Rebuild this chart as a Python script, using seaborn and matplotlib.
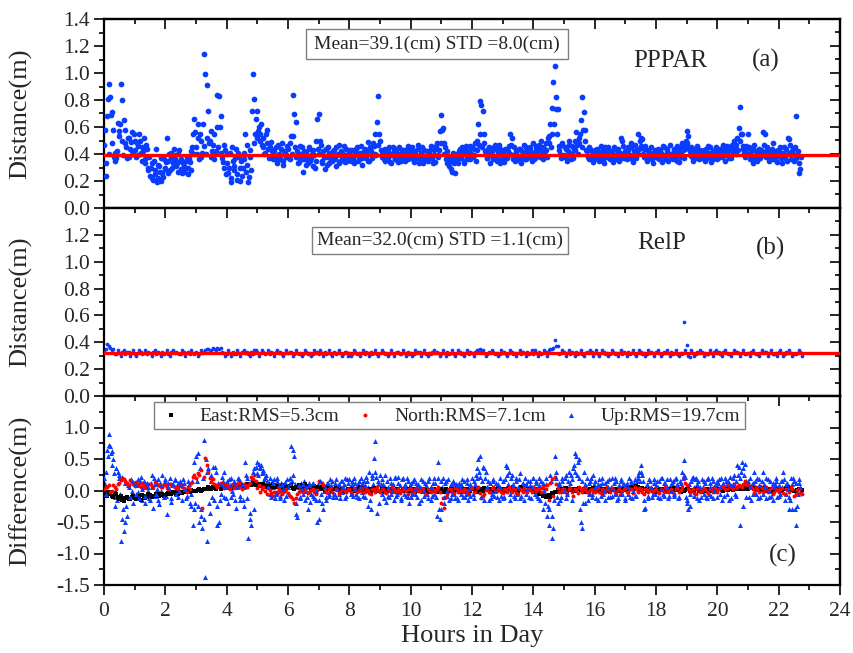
import numpy as np
import pandas as pd
import matplotlib
matplotlib.use("Agg")
import matplotlib.pyplot as plt
import matplotlib.patches as mpatches
from matplotlib.ticker import MultipleLocator, FormatStrFormatter
import seaborn as sns

# ---------------- data ----------------
STEP_A = 0.05   # hours between PPPAR / Up samples
STEP_B = 0.10   # hours between RelP / East / North samples

# PPPAR distance, two interleaved sample sets (second set offset by half a step)
dist_pppar = [
    0.47, 0.24, 0.68, 0.92, 0.82, 0.71, 0.58, 0.41, 0.37, 0.63,
    0.57, 0.92, 0.80, 0.65, 0.48, 0.37, 0.52, 0.44, 0.56, 0.40,
    0.50, 0.38, 0.46, 0.55, 0.41, 0.45, 0.52, 0.36, 0.44, 0.30,
    0.24, 0.33, 0.21, 0.28, 0.44, 0.22, 0.31, 0.20, 0.26, 0.36,
    0.29, 0.52, 0.35, 0.28, 0.41, 0.33, 0.39, 0.31, 0.27, 0.43,
    0.36, 0.26, 0.31, 0.29, 0.38, 0.25, 0.34, 0.42, 0.55, 0.66,
    0.45, 0.62, 0.36, 0.50, 0.41, 1.14, 0.99, 0.91, 0.72, 0.50,
    0.38, 0.47, 0.36, 0.42, 0.60, 0.83, 0.68, 0.37, 0.30, 0.43,
    0.33, 0.26, 0.41, 0.19, 0.35, 0.28, 0.44, 0.21, 0.38, 0.30,
    0.24, 0.41, 0.55, 0.32, 0.19, 0.43, 0.28, 0.99, 0.81, 0.66,
    0.72, 0.60, 0.55, 0.47, 0.52, 0.41, 0.58, 0.44, 0.38, 0.49,
    0.36, 0.42, 0.45, 0.33, 0.40, 0.37, 0.48, 0.35, 0.41, 0.39,
    0.44, 0.36, 0.53, 0.84, 0.70, 0.64, 0.42, 0.34, 0.38, 0.45,
    0.27, 0.36, 0.41, 0.33, 0.44, 0.37, 0.31, 0.39, 0.35, 0.66,
    0.70, 0.50, 0.35, 0.42, 0.29, 0.38, 0.45, 0.33, 0.40, 0.36,
    0.43, 0.31, 0.39, 0.47, 0.35, 0.41, 0.37, 0.34, 0.44, 0.38,
    0.40, 0.35, 0.43, 0.33, 0.39, 0.45, 0.36, 0.41, 0.32, 0.38,
    0.44, 0.37, 0.49, 0.35, 0.42, 0.40, 0.46, 0.55, 0.64, 0.83,
    0.50, 0.38, 0.43, 0.35, 0.41, 0.37, 0.45, 0.33, 0.39, 0.42,
    0.36, 0.44, 0.34, 0.40, 0.38, 0.43, 0.35, 0.41, 0.46, 0.37,
    0.39, 0.45, 0.34, 0.42, 0.37, 0.44, 0.36, 0.40, 0.33, 0.43,
    0.38, 0.35, 0.41, 0.46, 0.37, 0.43, 0.34, 0.48, 0.39, 0.57,
    0.69, 0.59, 0.48, 0.36, 0.42, 0.31, 0.38, 0.27, 0.35, 0.26,
    0.40, 0.33, 0.44, 0.37, 0.41, 0.35, 0.46, 0.38, 0.42, 0.36,
    0.45, 0.39, 0.48, 0.43, 0.62, 0.79, 0.76, 0.72, 0.55, 0.41,
    0.37, 0.45, 0.33, 0.42, 0.38, 0.47, 0.35, 0.40, 0.44, 0.36,
    0.41, 0.34, 0.43, 0.38, 0.46, 0.55, 0.52, 0.39, 0.35, 0.42,
    0.37, 0.44, 0.33, 0.40, 0.47, 0.36, 0.42, 0.38, 0.45, 0.35,
    0.41, 0.37, 0.46, 0.39, 0.43, 0.50, 0.36, 0.44, 0.48, 0.38,
    0.53, 0.62, 0.74, 0.93, 1.05, 0.82, 0.73, 0.43, 0.37, 0.47,
    0.39, 0.44, 0.35, 0.50, 0.41, 0.46, 0.37, 0.43, 0.56, 0.40,
    0.48, 0.65, 0.82, 0.71, 0.58, 0.42, 0.36, 0.44, 0.39, 0.34,
    0.43, 0.37, 0.41, 0.35, 0.46, 0.38, 0.33, 0.42, 0.39, 0.45,
    0.36, 0.41, 0.34, 0.44, 0.38, 0.40, 0.35, 0.52, 0.50, 0.37,
    0.42, 0.36, 0.45, 0.39, 0.48, 0.34, 0.41, 0.37, 0.55, 0.44,
    0.52, 0.51, 0.38, 0.46, 0.35, 0.43, 0.37, 0.41, 0.33, 0.40,
    0.38, 0.44, 0.36, 0.41, 0.34, 0.45, 0.39, 0.42, 0.35, 0.47,
    0.40, 0.36, 0.43, 0.38, 0.46, 0.34, 0.41, 0.48, 0.37, 0.44,
    0.57, 0.53, 0.39, 0.45, 0.35, 0.42, 0.38, 0.44, 0.36, 0.41,
    0.37, 0.43, 0.35, 0.40, 0.46, 0.38, 0.34, 0.42, 0.39, 0.45,
    0.36, 0.41, 0.44, 0.38, 0.47, 0.35, 0.42, 0.39, 0.45, 0.37,
    0.43, 0.50, 0.40, 0.52, 0.59, 0.75, 0.55, 0.46, 0.38, 0.44,
    0.55, 0.36, 0.42, 0.33, 0.47, 0.39, 0.35, 0.44, 0.37, 0.41,
    0.56, 0.55, 0.38, 0.43, 0.35, 0.40, 0.48, 0.36, 0.42, 0.34,
    0.39, 0.45, 0.33, 0.41, 0.37, 0.44, 0.52, 0.51, 0.36, 0.42,
    0.35, 0.68, 0.40, 0.26, 0.29,
]
dist_pppar_2 = [
    0.58, 0.33, 0.81, 0.40, 0.69, 0.48, 0.38, 0.35, 0.42, 0.53,
    0.62, 0.50, 0.39, 0.58, 0.45, 0.52, 0.38, 0.49, 0.42, 0.55,
    0.43, 0.48, 0.39, 0.50, 0.35, 0.42, 0.33, 0.47, 0.28, 0.38,
    0.30, 0.22, 0.35, 0.25, 0.19, 0.32, 0.27, 0.37, 0.23, 0.30,
    0.34, 0.26, 0.40, 0.37, 0.30, 0.44, 0.36, 0.33, 0.40, 0.35,
    0.29, 0.33, 0.27, 0.35, 0.30, 0.37, 0.28, 0.45, 0.40, 0.56,
    0.40, 0.52, 0.55, 0.38, 0.62, 0.46, 0.40, 0.52, 0.48, 0.57,
    0.42, 0.55, 0.40, 0.84, 0.45, 0.60, 0.41, 0.34, 0.47, 0.25,
    0.40, 0.30, 0.22, 0.45, 0.31, 0.37, 0.25, 0.41, 0.20, 0.35,
    0.30, 0.36, 0.27, 0.47, 0.23, 0.38, 0.72, 0.48, 0.55, 0.52,
    0.57, 0.50, 0.62, 0.45, 0.40, 0.55, 0.48, 0.37, 0.45, 0.42,
    0.43, 0.38, 0.35, 0.47, 0.36, 0.44, 0.32, 0.42, 0.38, 0.46,
    0.37, 0.48, 0.40, 0.53, 0.45, 0.38, 0.33, 0.46, 0.40, 0.36,
    0.42, 0.32, 0.38, 0.45, 0.35, 0.40, 0.43, 0.30, 0.50, 0.44,
    0.40, 0.47, 0.33, 0.38, 0.44, 0.32, 0.41, 0.37, 0.35, 0.42,
    0.36, 0.45, 0.40, 0.33, 0.42, 0.38, 0.46, 0.39, 0.35, 0.41,
    0.43, 0.38, 0.36, 0.41, 0.44, 0.35, 0.40, 0.46, 0.37, 0.42,
    0.38, 0.42, 0.35, 0.45, 0.37, 0.48, 0.40, 0.39, 0.47, 0.55,
    0.43, 0.40, 0.36, 0.44, 0.38, 0.42, 0.34, 0.40, 0.45, 0.36,
    0.41, 0.38, 0.45, 0.35, 0.43, 0.37, 0.40, 0.44, 0.36, 0.42,
    0.44, 0.36, 0.40, 0.38, 0.47, 0.33, 0.41, 0.45, 0.38, 0.36,
    0.42, 0.40, 0.37, 0.44, 0.33, 0.39, 0.46, 0.38, 0.43, 0.48,
    0.58, 0.40, 0.45, 0.33, 0.38, 0.35, 0.29, 0.41, 0.33, 0.37,
    0.35, 0.42, 0.38, 0.45, 0.33, 0.43, 0.39, 0.36, 0.46, 0.40,
    0.38, 0.44, 0.35, 0.50, 0.47, 0.55, 0.45, 0.48, 0.42, 0.37,
    0.44, 0.39, 0.41, 0.36, 0.45, 0.38, 0.43, 0.47, 0.33, 0.41,
    0.38, 0.44, 0.37, 0.42, 0.40, 0.47, 0.36, 0.45, 0.41, 0.38,
    0.44, 0.35, 0.42, 0.38, 0.36, 0.45, 0.39, 0.43, 0.37, 0.48,
    0.36, 0.44, 0.40, 0.47, 0.38, 0.42, 0.45, 0.39, 0.43, 0.52,
    0.48, 0.45, 0.55, 0.62, 0.73, 0.55, 0.46, 0.40, 0.48, 0.38,
    0.45, 0.38, 0.42, 0.47, 0.36, 0.40, 0.44, 0.50, 0.47, 0.52,
    0.55, 0.45, 0.58, 0.50, 0.43, 0.38, 0.45, 0.37, 0.42, 0.40,
    0.38, 0.44, 0.36, 0.40, 0.42, 0.35, 0.45, 0.38, 0.43, 0.37,
    0.42, 0.38, 0.45, 0.36, 0.40, 0.44, 0.41, 0.37, 0.46, 0.39,
    0.37, 0.43, 0.39, 0.45, 0.36, 0.42, 0.47, 0.44, 0.40, 0.50,
    0.46, 0.40, 0.44, 0.37, 0.42, 0.38, 0.45, 0.36, 0.41, 0.43,
    0.42, 0.37, 0.43, 0.39, 0.46, 0.38, 0.36, 0.44, 0.40, 0.38,
    0.37, 0.44, 0.40, 0.35, 0.42, 0.45, 0.38, 0.43, 0.46, 0.50,
    0.48, 0.45, 0.42, 0.38, 0.44, 0.37, 0.46, 0.40, 0.43, 0.38,
    0.42, 0.39, 0.44, 0.37, 0.41, 0.45, 0.39, 0.36, 0.43, 0.40,
    0.41, 0.38, 0.40, 0.45, 0.42, 0.39, 0.46, 0.37, 0.43, 0.47,
    0.40, 0.45, 0.47, 0.43, 0.50, 0.55, 0.44, 0.41, 0.46, 0.40,
    0.45, 0.40, 0.38, 0.44, 0.36, 0.42, 0.40, 0.37, 0.43, 0.39,
    0.47, 0.42, 0.45, 0.37, 0.41, 0.44, 0.36, 0.40, 0.38, 0.43,
    0.43, 0.37, 0.40, 0.45, 0.39, 0.35, 0.41, 0.47, 0.40, 0.44,
    0.45, 0.37, 0.42, 0.33, 0.38,
]

# RelP distance, two interleaved sample sets
dist_relp = [
    0.33, 0.39, 0.36, 0.35, 0.31, 0.32, 0.33, 0.31, 0.33, 0.32,
    0.31, 0.32, 0.33, 0.32, 0.31, 0.32, 0.33, 0.31, 0.32, 0.33,
    0.32, 0.31, 0.33, 0.32, 0.32, 0.31, 0.33, 0.32, 0.31, 0.32,
    0.33, 0.31, 0.32, 0.34, 0.35, 0.34, 0.35, 0.36, 0.36, 0.32,
    0.31, 0.32, 0.33, 0.31, 0.32, 0.33, 0.32, 0.31, 0.33, 0.34,
    0.33, 0.32, 0.33, 0.32, 0.31, 0.32, 0.33, 0.32, 0.31, 0.32,
    0.32, 0.33, 0.31, 0.32, 0.32, 0.31, 0.33, 0.32, 0.31, 0.32,
    0.31, 0.32, 0.33, 0.32, 0.31, 0.33, 0.32, 0.32, 0.31, 0.33,
    0.32, 0.31, 0.33, 0.32, 0.32, 0.31, 0.32, 0.33, 0.32, 0.31,
    0.32, 0.33, 0.32, 0.31, 0.32, 0.32, 0.33, 0.31, 0.32, 0.33,
    0.32, 0.31, 0.32, 0.33, 0.32, 0.31, 0.32, 0.33, 0.32, 0.32,
    0.31, 0.32, 0.33, 0.32, 0.31, 0.32, 0.33, 0.32, 0.32, 0.31,
    0.32, 0.33, 0.34, 0.33, 0.32, 0.31, 0.32, 0.33, 0.32, 0.31,
    0.32, 0.31, 0.32, 0.33, 0.32, 0.32, 0.31, 0.32, 0.33, 0.32,
    0.31, 0.32, 0.33, 0.32, 0.33, 0.34, 0.35, 0.42, 0.37, 0.32,
    0.33, 0.32, 0.31, 0.32, 0.33, 0.32, 0.31, 0.32, 0.32, 0.33,
    0.32, 0.31, 0.32, 0.33, 0.32, 0.31, 0.33, 0.32, 0.32, 0.31,
    0.32, 0.33, 0.32, 0.31, 0.32, 0.33, 0.32, 0.31, 0.32, 0.32,
    0.33, 0.32, 0.31, 0.32, 0.32, 0.33, 0.32, 0.31, 0.32, 0.55,
    0.38, 0.29, 0.32, 0.31, 0.32, 0.33, 0.32, 0.31, 0.32, 0.33,
    0.32, 0.31, 0.33, 0.32, 0.31, 0.32, 0.33, 0.32, 0.32, 0.31,
    0.32, 0.33, 0.32, 0.31, 0.32, 0.32, 0.33, 0.32, 0.31, 0.32,
    0.33, 0.32, 0.31, 0.32, 0.32, 0.31, 0.32, 0.33,
]
dist_relp_2 = [
    0.35, 0.37, 0.34, 0.31, 0.34, 0.30, 0.34, 0.33, 0.30, 0.34,
    0.30, 0.34, 0.31, 0.34, 0.33, 0.30, 0.34, 0.33, 0.30, 0.31,
    0.34, 0.30, 0.34, 0.33, 0.31, 0.34, 0.30, 0.33, 0.34, 0.31,
    0.30, 0.34, 0.33, 0.35, 0.33, 0.36, 0.34, 0.35, 0.33, 0.30,
    0.34, 0.30, 0.31, 0.34, 0.30, 0.34, 0.33, 0.30, 0.31, 0.34,
    0.30, 0.34, 0.31, 0.34, 0.33, 0.30, 0.34, 0.33, 0.30, 0.34,
    0.33, 0.30, 0.34, 0.31, 0.30, 0.34, 0.31, 0.30, 0.34, 0.33,
    0.34, 0.30, 0.31, 0.34, 0.30, 0.31, 0.34, 0.30, 0.33, 0.30,
    0.30, 0.34, 0.31, 0.30, 0.34, 0.33, 0.30, 0.31, 0.34, 0.30,
    0.34, 0.31, 0.30, 0.34, 0.30, 0.33, 0.31, 0.34, 0.30, 0.31,
    0.30, 0.34, 0.33, 0.30, 0.34, 0.30, 0.31, 0.34, 0.33, 0.30,
    0.34, 0.30, 0.31, 0.34, 0.30, 0.34, 0.31, 0.30, 0.34, 0.33,
    0.30, 0.34, 0.35, 0.34, 0.30, 0.33, 0.34, 0.31, 0.30, 0.34,
    0.33, 0.30, 0.34, 0.31, 0.30, 0.34, 0.33, 0.30, 0.31, 0.34,
    0.34, 0.30, 0.31, 0.34, 0.30, 0.35, 0.36, 0.37, 0.31, 0.34,
    0.30, 0.34, 0.33, 0.30, 0.31, 0.34, 0.30, 0.33, 0.34, 0.30,
    0.34, 0.30, 0.34, 0.31, 0.30, 0.34, 0.31, 0.30, 0.34, 0.33,
    0.30, 0.31, 0.34, 0.30, 0.34, 0.31, 0.30, 0.34, 0.33, 0.30,
    0.34, 0.30, 0.33, 0.34, 0.30, 0.31, 0.34, 0.30, 0.31, 0.34,
    0.30, 0.34, 0.30, 0.33, 0.34, 0.30, 0.31, 0.34, 0.30, 0.34,
    0.33, 0.30, 0.34, 0.31, 0.30, 0.34, 0.33, 0.30, 0.34, 0.31,
    0.30, 0.34, 0.31, 0.30, 0.34, 0.33, 0.30, 0.34, 0.31, 0.30,
    0.34, 0.30, 0.33, 0.34, 0.30, 0.31, 0.34, 0.30,
]

# PPPAR - RelP differences (m), two interleaved sample sets each
diff_east = [
    -0.05, -0.08, -0.03, -0.10, -0.06, -0.13, -0.15, -0.12, -0.14, -0.10,
    -0.12, -0.09, -0.15, -0.08, -0.11, -0.07, -0.09, -0.06, -0.08, -0.05,
    -0.07, -0.04, -0.06, -0.03, -0.05, -0.02, -0.03, -0.01, -0.02, 0.00,
    -0.01, 0.02, 0.01, 0.03, 0.05, 0.02, 0.04, 0.06, 0.03, 0.05,
    0.04, 0.06, 0.05, 0.08, 0.06, 0.09, 0.07, 0.10, 0.08, 0.11,
    0.09, 0.07, 0.10, 0.08, 0.06, 0.09, 0.05, 0.07, 0.04, 0.06,
    0.05, 0.08, 0.03, 0.06, 0.09, 0.04, 0.07, 0.05, 0.02, 0.04,
    0.03, 0.05, 0.01, 0.04, -0.01, 0.02, 0.03, 0.00, 0.02, -0.02,
    0.01, 0.03, -0.01, 0.02, 0.04, 0.00, 0.02, -0.02, 0.01, 0.03,
    0.00, -0.02, 0.02, 0.01, -0.03, 0.01, 0.03, -0.01, 0.00, 0.02,
    -0.01, 0.02, 0.00, 0.03, -0.02, 0.01, -0.03, 0.02, 0.00, -0.01,
    0.02, -0.02, 0.01, 0.03, -0.01, 0.04, 0.00, 0.02, -0.02, 0.01,
    0.03, 0.00, -0.02, 0.02, 0.04, 0.01, -0.01, 0.03, 0.00, 0.02,
    -0.01, 0.02, 0.04, 0.00, 0.03, -0.02, 0.06, 0.02, 0.00, 0.03,
    0.01, -0.03, -0.05, -0.08, -0.10, -0.07, -0.04, -0.02, 0.01, 0.03,
    0.02, 0.00, 0.03, -0.01, 0.02, 0.04, 0.01, -0.02, 0.00, 0.02,
    0.01, -0.01, 0.03, 0.00, 0.02, -0.02, 0.01, 0.03, 0.00, -0.01,
    0.02, 0.04, 0.06, 0.03, 0.05, 0.01, 0.03, -0.01, 0.02, 0.00,
    -0.02, 0.01, 0.03, 0.00, -0.01, 0.02, 0.04, 0.01, -0.02, 0.00,
    0.02, -0.01, 0.01, 0.03, 0.00, -0.02, 0.02, 0.01, -0.01, 0.03,
    0.01, 0.03, 0.00, 0.02, 0.04, 0.01, 0.03, 0.05, 0.02, 0.04,
    0.03, 0.06, 0.02, 0.04, 0.01, 0.03, 0.00, 0.02, -0.01, 0.01,
    0.02, 0.00, 0.03, 0.05, 0.02, -0.01, 0.01, 0.03,
]
diff_east_2 = [
    -0.02, -0.06, -0.09, -0.04, -0.11, -0.08, -0.16, -0.10, -0.13, -0.08,
    -0.14, -0.10, -0.07, -0.12, -0.06, -0.10, -0.08, -0.05, -0.07, -0.09,
    -0.05, -0.06, -0.03, -0.05, -0.02, -0.04, -0.01, -0.03, 0.01, -0.01,
    0.01, -0.01, 0.03, 0.02, 0.04, 0.05, 0.03, 0.07, 0.05, 0.04,
    0.06, 0.04, 0.07, 0.06, 0.09, 0.07, 0.10, 0.08, 0.12, 0.09,
    0.11, 0.08, 0.06, 0.10, 0.07, 0.05, 0.08, 0.06, 0.09, 0.05,
    0.07, 0.04, 0.06, 0.08, 0.05, 0.10, 0.06, 0.03, 0.07, 0.06,
    0.04, 0.02, 0.05, 0.03, 0.01, 0.04, 0.01, 0.03, -0.01, 0.02,
    0.03, 0.00, 0.02, 0.05, 0.01, 0.03, 0.00, 0.02, 0.04, 0.00,
    0.02, 0.01, -0.01, 0.03, 0.00, 0.02, -0.02, 0.02, 0.03, 0.00,
    0.01, -0.02, 0.03, 0.01, 0.02, -0.01, 0.01, 0.03, -0.02, 0.02,
    0.00, 0.03, -0.01, 0.02, 0.01, 0.03, -0.02, 0.01, 0.03, 0.00,
    0.02, 0.04, 0.01, -0.01, 0.03, 0.02, 0.00, 0.02, 0.04, 0.01,
    0.03, 0.00, 0.02, 0.05, 0.01, 0.04, 0.02, 0.07, 0.03, 0.01,
    0.02, 0.00, -0.04, -0.06, -0.09, -0.11, -0.05, -0.03, 0.00, 0.02,
    0.04, 0.01, 0.02, 0.00, 0.03, 0.01, 0.03, 0.00, 0.02, 0.04,
    0.00, 0.02, 0.01, 0.03, -0.01, 0.01, 0.02, 0.00, 0.02, 0.01,
    0.03, 0.05, 0.04, 0.07, 0.03, 0.04, 0.02, 0.01, 0.03, 0.01,
    0.00, 0.02, 0.01, 0.03, 0.01, 0.00, 0.03, 0.02, 0.00, 0.01,
    0.03, 0.01, 0.00, 0.02, 0.01, 0.00, 0.03, 0.00, 0.02, 0.01,
    0.02, 0.01, 0.03, 0.01, 0.03, 0.02, 0.04, 0.03, 0.05, 0.03,
    0.05, 0.04, 0.03, 0.02, 0.04, 0.02, 0.01, 0.03, 0.00, 0.02,
    0.01, 0.02, 0.04, 0.03, 0.01, 0.00, 0.02, 0.01,
]

diff_north = [
    0.02, 0.06, -0.03, 0.08, 0.03, 0.12, 0.20, 0.15, 0.09, 0.14,
    0.07, 0.11, 0.05, 0.09, 0.04, 0.10, 0.06, 0.12, 0.08, 0.05,
    0.09, 0.03, 0.11, 0.06, 0.02, 0.08, 0.04, -0.02, 0.03, 0.22,
    0.20, 0.25, -0.28, 0.52, 0.30, 0.14, 0.10, 0.06, 0.12, 0.04,
    0.08, 0.02, 0.10, 0.05, 0.12, 0.03, 0.07, 0.09, 0.22, 0.25,
    0.04, -0.02, 0.06, -0.05, 0.01, -0.08, -0.03, 0.02, -0.06, -0.01,
    -0.04, -0.10, -0.20, -0.06, 0.01, -0.03, 0.04, -0.02, 0.03, -0.05,
    0.15, 0.12, 0.02, -0.04, 0.05, -0.06, 0.01, -0.03, 0.04, -0.02,
    0.03, -0.05, 0.02, -0.01, 0.04, -0.03, 0.01, -0.06, 0.02, 0.05,
    -0.02, 0.03, -0.04, 0.01, 0.05, -0.03, 0.02, -0.01, 0.04, -0.05,
    0.02, -0.03, 0.05, -0.01, 0.03, -0.06, 0.01, 0.04, -0.02, 0.06,
    -0.20, -0.28, -0.05, 0.03, -0.04, 0.02, 0.05, -0.03, 0.01, -0.06,
    0.04, -0.02, 0.06, -0.12, -0.05, 0.02, -0.03, 0.05, -0.01, 0.03,
    -0.04, 0.02, 0.05, -0.02, 0.03, -0.06, 0.01, 0.04, -0.03, 0.02,
    0.05, -0.01, 0.03, 0.06, 0.02, -0.15, 0.18, 0.22, 0.04, -0.03,
    0.02, -0.05, 0.04, -0.08, 0.01, 0.05, -0.03, 0.02, -0.06, 0.03,
    -0.02, 0.04, -0.04, 0.01, 0.05, -0.03, 0.02, -0.05, 0.03, -0.01,
    0.04, -0.03, 0.02, 0.06, -0.02, 0.03, -0.05, 0.01, 0.04, -0.02,
    0.03, -0.04, 0.01, 0.05, -0.02, 0.02, -0.05, 0.04, 0.01, 0.20,
    0.08, -0.03, 0.02, -0.06, 0.04, -0.01, 0.03, -0.04, 0.02, 0.05,
    -0.02, 0.04, 0.07, 0.03, 0.08, 0.02, 0.06, 0.09, 0.05, 0.15,
    0.10, 0.06, -0.04, 0.03, 0.07, -0.02, 0.05, 0.01, -0.05, 0.03,
    -0.03, 0.04, -0.06, 0.02, 0.05, -0.08, 0.01, -0.04,
]
diff_north_2 = [
    0.05, 0.09, 0.00, 0.05, 0.10, 0.16, 0.18, 0.12, 0.17, 0.10,
    0.13, 0.08, 0.12, 0.06, 0.11, 0.07, 0.13, 0.09, 0.06, 0.10,
    0.05, 0.10, 0.07, 0.04, 0.09, 0.06, 0.01, 0.05, 0.12, 0.25,
    0.28, 0.33, 0.22, 0.40, 0.20, 0.18, 0.08, 0.11, 0.08, 0.10,
    0.05, 0.09, 0.04, 0.11, 0.06, 0.10, 0.05, 0.12, 0.18, 0.15,
    0.08, 0.03, 0.00, 0.04, -0.04, -0.02, -0.06, 0.00, -0.03, 0.02,
    -0.08, -0.14, -0.12, -0.03, -0.01, 0.02, -0.04, 0.01, -0.03, 0.01,
    0.13, 0.08, -0.02, 0.03, -0.03, 0.02, -0.05, 0.03, -0.01, 0.02,
    -0.02, 0.04, -0.03, 0.03, -0.02, 0.03, -0.04, 0.02, -0.02, 0.01,
    0.03, -0.03, 0.02, -0.02, 0.03, 0.00, -0.04, 0.03, -0.01, 0.02,
    -0.04, 0.03, 0.00, 0.04, -0.03, 0.02, -0.02, 0.01, 0.03, -0.02,
    -0.12, -0.10, 0.02, -0.03, 0.04, -0.02, 0.00, 0.03, -0.04, 0.02,
    -0.02, 0.04, -0.04, -0.08, 0.01, -0.03, 0.04, -0.01, 0.03, -0.03,
    0.03, -0.03, 0.01, 0.04, -0.04, 0.02, -0.02, 0.01, 0.03, -0.02,
    0.02, 0.04, -0.03, 0.02, 0.08, 0.12, -0.08, 0.10, -0.02, 0.03,
    -0.03, 0.03, -0.02, 0.02, -0.04, 0.02, 0.04, -0.02, 0.01, -0.03,
    0.03, -0.02, 0.02, -0.03, 0.02, 0.04, -0.02, 0.01, -0.04, 0.02,
    -0.02, 0.03, -0.04, 0.02, 0.04, -0.03, 0.02, -0.02, 0.03, 0.01,
    -0.02, 0.02, -0.03, 0.03, 0.00, -0.03, 0.03, -0.02, 0.05, 0.12,
    0.03, 0.01, -0.04, 0.03, -0.02, 0.04, -0.03, 0.02, -0.02, 0.03,
    0.02, 0.06, 0.03, 0.09, 0.05, 0.10, 0.04, 0.07, 0.11, 0.08,
    0.06, 0.02, 0.05, -0.02, 0.04, 0.02, -0.03, 0.04, -0.02, 0.01,
    0.02, -0.04, 0.03, -0.03, 0.02, -0.05, 0.03, -0.06,
]

diff_up = [
    0.20, -0.05, 0.65, 0.90, 0.70, 0.62, 0.50, -0.25, 0.35, 0.30,
    0.25, -0.80, -0.45, -0.65, -0.50, -0.40, 0.05, -0.10, 0.15, -0.20,
    0.10, -0.05, 0.18, -0.12, 0.22, 0.02, 0.15, -0.08, 0.12, 0.05,
    -0.15, 0.25, -0.28, 0.10, -0.05, 0.18, -0.22, 0.08, 0.25, -0.10,
    0.15, -0.38, 0.05, 0.20, -0.12, 0.10, 0.16, -0.05, 0.12, 0.00,
    0.08, -0.15, 0.12, 0.02, -0.08, 0.15, -0.20, -0.25, -0.55, 0.45,
    0.55, 0.60, -0.50, -0.40, -0.60, 0.80, -1.38, -0.80, 0.35, -0.35,
    0.25, 0.38, -0.15, 0.30, -0.55, -0.50, 0.10, 0.22, -0.10, 0.05,
    0.15, -0.20, 0.08, 0.20, -0.05, 0.12, -0.28, 0.05, 0.18, -0.15,
    0.10, -0.25, 0.45, 0.20, -0.75, -0.45, -0.55, 0.30, -0.30, 0.38,
    0.45, 0.42, 0.35, 0.28, 0.32, 0.22, 0.15, 0.05, 0.20, -0.10,
    0.12, 0.18, -0.05, 0.15, 0.08, -0.12, 0.10, 0.02, 0.14, -0.08,
    0.05, 0.12, 0.70, 0.65, 0.55, -0.38, -0.42, 0.08, -0.10, 0.02,
    0.10, -0.15, 0.05, -0.30, 0.08, -0.05, 0.12, -0.12, 0.00, -0.50,
    -0.45, 0.15, -0.20, -0.30, 0.05, -0.10, 0.12, -0.05, 0.08, 0.15,
    -0.05, 0.18, 0.02, 0.10, -0.12, 0.15, 0.05, 0.20, -0.08, 0.12,
    0.18, -0.05, 0.10, 0.20, 0.02, -0.10, 0.15, 0.05, 0.12, -0.08,
    0.08, 0.22, -0.25, 0.30, -0.30, 0.25, 0.52, 0.78, -0.35, 0.15,
    0.25, -0.05, 0.10, 0.25, -0.18, 0.05, -0.10, 0.12, 0.00, -0.15,
    0.20, -0.05, 0.22, 0.08, -0.12, 0.20, 0.05, -0.08, 0.15, -0.20,
    0.12, -0.05, 0.18, 0.02, -0.10, 0.10, 0.05, -0.15, 0.15, 0.00,
    0.08, -0.12, 0.20, 0.05, -0.08, 0.20, 0.12, -0.40, 0.45, -0.45,
    -0.30, 0.20, -0.10, 0.15, 0.00, -0.15, 0.10, -0.05, 0.12, -0.12,
    0.08, -0.15, 0.05, 0.10, -0.10, 0.15, -0.05, 0.18, 0.02, -0.08,
    0.20, -0.12, 0.10, 0.35, 0.50, 0.55, -0.10, 0.38, 0.35, 0.30,
    0.05, -0.15, 0.12, -0.05, 0.15, 0.00, -0.10, 0.10, 0.05, -0.08,
    0.15, -0.10, 0.40, 0.38, 0.30, -0.05, 0.25, 0.10, -0.12, 0.20,
    0.05, 0.28, -0.08, 0.12, -0.15, 0.10, 0.02, -0.10, 0.15, 0.05,
    0.20, -0.05, 0.12, -0.12, 0.08, 0.15, -0.30, 0.00, 0.20, -0.40,
    -0.55, 0.25, -0.75, -0.60, 0.55, 0.20, -0.20, 0.10, -0.10, 0.15,
    0.00, 0.25, -0.05, 0.30, 0.12, -0.15, 0.35, 0.60, 0.55, 0.45,
    0.50, -0.50, -0.60, 0.30, -0.20, 0.20, -0.05, 0.15, -0.10, 0.25,
    0.05, -0.12, 0.10, 0.18, -0.08, 0.12, 0.00, -0.15, 0.15, 0.05,
    -0.10, 0.20, 0.02, -0.05, 0.15, -0.12, 0.08, 0.18, -0.05, 0.10,
    -0.15, 0.12, 0.05, -0.10, 0.15, 0.00, 0.18, -0.08, 0.25, 0.30,
    0.40, 0.25, -0.30, -0.28, 0.10, -0.12, 0.15, 0.05, -0.05, 0.18,
    0.08, -0.10, 0.15, 0.02, 0.20, -0.08, 0.12, 0.05, -0.12, 0.18,
    0.00, 0.15, -0.05, 0.20, 0.10, -0.10, 0.12, 0.30, 0.48, 0.22,
    -0.20, -0.30, -0.25, 0.15, 0.22, -0.08, 0.20, 0.10, -0.15, 0.05,
    0.18, -0.05, 0.12, -0.12, 0.20, 0.05, -0.08, 0.15, 0.00, 0.10,
    -0.10, 0.18, 0.05, -0.15, 0.12, 0.20, -0.05, 0.15, 0.08, -0.12,
    0.10, 0.25, -0.08, 0.40, 0.38, -0.55, 0.45, 0.35, 0.42, -0.10,
    0.15, 0.05, -0.15, 0.12, 0.30, -0.05, 0.20, 0.08, -0.10, 0.15,
    0.30, 0.05, -0.12, 0.18, 0.00, -0.08, 0.12, 0.05, 0.15, -0.10,
    0.08, -0.05, 0.15, 0.30, -0.15, 0.10, 0.02, -0.30, 0.20, -0.30,
    0.15, -0.55, -0.25, 0.12, 0.05,
]
diff_up_2 = [
    0.10, 0.30, 0.55, 0.72, 0.60, 0.40, 0.28, -0.10, -0.15, 0.20,
    -0.05, 0.22, -0.30, 0.12, -0.25, 0.08, -0.12, 0.18, 0.00, 0.12,
    -0.10, 0.08, -0.02, 0.15, -0.15, 0.05, -0.20, 0.10, 0.00, -0.12,
    0.12, 0.05, 0.20, -0.08, 0.02, -0.15, 0.12, 0.00, -0.05, 0.18,
    -0.08, 0.12, 0.02, -0.18, 0.08, -0.02, 0.18, 0.05, -0.10, 0.15,
    0.10, 0.18, 0.00, -0.12, 0.05, 0.10, -0.05, 0.15, -0.30, -0.20,
    0.15, -0.25, 0.35, -0.30, 0.20, -0.45, 0.50, 0.30, -0.20, 0.15,
    -0.10, 0.05, 0.38, -0.25, 0.12, -0.15, -0.05, 0.15, 0.30, -0.12,
    0.05, 0.18, -0.10, 0.00, 0.15, -0.15, 0.10, 0.20, -0.08, 0.12,
    -0.15, 0.05, 0.25, -0.12, 0.10, -0.35, 0.20, 0.35, 0.10, 0.28,
    0.25, 0.38, 0.40, 0.30, 0.18, 0.25, 0.10, 0.12, -0.05, 0.15,
    0.05, -0.12, 0.20, 0.00, -0.08, 0.12, 0.05, -0.15, 0.08, 0.18,
    -0.05, 0.20, 0.15, 0.25, 0.10, -0.20, 0.05, -0.12, 0.12, -0.05,
    0.15, 0.00, -0.10, 0.12, -0.18, 0.10, -0.08, 0.05, -0.15, 0.10,
    -0.15, -0.05, 0.10, 0.00, -0.15, 0.12, -0.08, 0.18, 0.00, -0.10,
    0.12, -0.10, 0.08, -0.05, 0.15, -0.02, 0.10, -0.12, 0.18, 0.02,
    0.05, 0.15, -0.08, 0.12, -0.05, 0.10, -0.12, 0.20, -0.02, 0.15,
    -0.10, 0.15, 0.05, -0.15, 0.20, 0.10, 0.30, 0.22, 0.10, -0.20,
    0.10, 0.18, -0.12, 0.05, 0.15, -0.08, 0.20, -0.05, 0.10, 0.22,
    -0.08, 0.12, 0.00, -0.15, 0.18, -0.05, 0.10, 0.20, -0.10, 0.08,
    -0.10, 0.15, -0.05, 0.12, 0.05, -0.20, 0.18, 0.00, -0.08, 0.12,
    -0.05, 0.15, 0.00, -0.15, 0.12, -0.05, -0.10, 0.20, -0.30, 0.15,
    0.05, -0.20, 0.12, -0.08, 0.18, 0.05, -0.12, 0.15, -0.05, 0.10,
    -0.12, 0.12, -0.05, 0.18, 0.00, -0.10, 0.12, -0.15, 0.10, 0.05,
    -0.05, 0.15, 0.25, 0.20, 0.30, 0.22, 0.15, -0.15, 0.20, 0.05,
    0.15, 0.02, -0.12, 0.18, -0.08, 0.12, 0.05, -0.15, 0.20, 0.00,
    -0.12, 0.18, 0.25, 0.10, -0.15, 0.20, 0.05, -0.08, 0.15, -0.05,
    0.18, -0.12, 0.10, 0.02, 0.20, -0.05, 0.15, 0.08, -0.12, 0.20,
    0.05, 0.15, -0.08, 0.20, -0.15, 0.05, 0.12, -0.20, 0.10, -0.25,
    -0.30, 0.15, -0.40, -0.15, 0.30, -0.10, 0.12, -0.15, 0.20, 0.05,
    0.20, -0.12, 0.15, 0.05, 0.25, 0.18, 0.40, 0.30, 0.25, 0.20,
    -0.30, 0.15, -0.20, 0.10, 0.05, -0.15, 0.12, 0.20, -0.05, 0.10,
    0.15, 0.02, -0.15, 0.08, 0.20, -0.05, 0.12, 0.05, -0.10, 0.18,
    0.05, -0.08, 0.12, 0.20, -0.15, 0.05, -0.05, 0.15, 0.10, -0.12,
    0.08, -0.05, 0.20, 0.10, -0.12, 0.12, -0.08, 0.15, 0.20, 0.15,
    0.30, 0.15, -0.15, 0.05, -0.08, 0.18, 0.02, -0.10, 0.12, -0.05,
    0.15, 0.05, -0.12, 0.20, -0.05, 0.12, 0.00, 0.18, -0.08, 0.10,
    0.12, -0.08, 0.18, 0.02, -0.12, 0.15, 0.05, 0.20, 0.25, -0.10,
    -0.15, 0.10, -0.05, 0.20, 0.05, 0.18, -0.12, 0.15, 0.02, -0.10,
    0.05, 0.15, -0.10, 0.18, -0.05, 0.12, 0.20, -0.12, 0.08, 0.15,
    0.12, -0.05, 0.20, 0.02, -0.08, 0.15, 0.10, -0.15, 0.22, 0.05,
    0.20, -0.05, 0.15, 0.25, 0.20, 0.30, -0.25, 0.25, 0.15, 0.05,
    -0.10, 0.20, 0.10, -0.05, 0.15, 0.02, -0.12, 0.18, 0.05, -0.05,
    0.10, 0.20, 0.02, -0.10, 0.15, 0.05, -0.15, 0.10, 0.20, 0.02,
    -0.08, 0.15, 0.05, 0.18, -0.05, 0.12, -0.10, -0.15, 0.10, 0.20,
    -0.30, 0.12, -0.05, 0.18, 0.00,
]

mean_pppar = 0.391
mean_relp = 0.320
text_a = "Mean=39.1(cm) STD =8.0(cm)"
text_b = "Mean=32.0(cm) STD =1.1(cm)"
legend_labels = ["East:RMS=5.3cm", "North:RMS=7.1cm", "Up:RMS=19.7cm"]


def frame(values, step, offset=0.0):
    return pd.DataFrame({"hour": np.arange(len(values)) * step + offset,
                         "v": values})


df_a = pd.concat([frame(dist_pppar, STEP_A), frame(dist_pppar_2, STEP_A, STEP_A / 2)])
df_b = pd.concat([frame(dist_relp, STEP_B), frame(dist_relp_2, STEP_B, STEP_B / 2)])
df_e1, df_e2 = frame(diff_east, STEP_B), frame(diff_east_2, STEP_B, STEP_B / 2)
df_n1, df_n2 = frame(diff_north, STEP_B), frame(diff_north_2, STEP_B, STEP_B / 2)
df_u1, df_u2 = frame(diff_up, STEP_A), frame(diff_up_2, STEP_A, STEP_A / 2)

# ---------------- style ----------------
sns.set_style("ticks")
plt.rcParams["font.family"] = ["Liberation Serif", "DejaVu Serif"]
plt.rcParams["axes.unicode_minus"] = False

BLUE = "#0a3cff"
W, H = 854, 653
fig = plt.figure(figsize=(W / 100, H / 100), dpi=100)
L_PX, R_PX = 104, 840


def rect(top, bottom):
    return [L_PX / W, 1 - bottom / H, (R_PX - L_PX) / W, (bottom - top) / H]


axa = fig.add_axes(rect(19, 208))
axb = fig.add_axes(rect(208, 396))
axc = fig.add_axes(rect(396, 585))

# ---------------- plots ----------------
sns.scatterplot(data=df_a, x="hour", y="v", ax=axa, color=BLUE, s=17,
                marker="o", linewidth=0, zorder=3)
axa.axhline(mean_pppar, color="#ff0000", lw=2.4, zorder=4)

sns.scatterplot(data=df_b, x="hour", y="v", ax=axb, color=BLUE, s=7,
                marker="o", linewidth=0, zorder=3)
axb.axhline(mean_relp, color="#ff0000", lw=2.4, zorder=4)

sns.scatterplot(data=df_u2, x="hour", y="v", ax=axc, color=BLUE, s=13,
                marker="^", linewidth=0, zorder=2)
sns.scatterplot(data=df_e1, x="hour", y="v", ax=axc, color="black", s=7,
                marker="s", linewidth=0, zorder=3, label=legend_labels[0])
sns.scatterplot(data=df_e2, x="hour", y="v", ax=axc, color="black", s=7,
                marker="s", linewidth=0, zorder=3)
sns.scatterplot(data=df_n1, x="hour", y="v", ax=axc, color="#ff0000", s=8,
                marker="o", linewidth=0, zorder=4, label=legend_labels[1])
sns.scatterplot(data=df_n2, x="hour", y="v", ax=axc, color="#ff0000", s=8,
                marker="o", linewidth=0, zorder=4)
sns.scatterplot(data=df_u1, x="hour", y="v", ax=axc, color=BLUE, s=13,
                marker="^", linewidth=0, zorder=5, label=legend_labels[2])

# ---------------- axes ----------------
ytick_sets = {
    axa: (0.0, 1.4, np.round(np.arange(0, 1.41, 0.2), 1), 0.1, 0.2),
    axb: (0.0, 1.4, np.round(np.arange(0, 1.21, 0.2), 1), 0.1, 0.2),
    axc: (-1.5, 1.5, np.round(np.arange(-1.5, 1.01, 0.5), 1), 0.25, 0.5),
}
for ax, (y0, y1, yt, ymin, ymaj) in ytick_sets.items():
    ax.set_xlim(0, 24)
    ax.set_ylim(y0, y1)
    ax.set_xticks(np.arange(0, 25, 2))
    ax.xaxis.set_minor_locator(MultipleLocator(1))
    ax.set_yticks(yt)
    ax.yaxis.set_minor_locator(MultipleLocator(ymin))
    ax.yaxis.set_major_formatter(FormatStrFormatter("%.1f"))
    ax.tick_params(which="both", direction="out", width=1.4, top=False,
                   right=False, labelsize=15.5, pad=3)
    ax.tick_params(axis="x", labelsize=15.5, pad=5)
    ax.tick_params(which="major", length=7)
    ax.tick_params(which="minor", length=3.5)
    for sp in ax.spines.values():
        sp.set_linewidth(1.6)
        sp.set_color("black")
    ax.set_xlabel("")
    ax.set_ylabel("")
    # mirrored axes with inward ticks
    sx = ax.secondary_xaxis("top")
    sx.set_xticks(np.arange(0, 25, 2))
    sx.xaxis.set_minor_locator(MultipleLocator(1))
    sx.tick_params(which="both", direction="in", width=1.4, labeltop=False)
    sx.tick_params(which="major", length=7)
    sx.tick_params(which="minor", length=3.5)
    sx.spines["top"].set_linewidth(1.6)
    sy = ax.secondary_yaxis("right")
    sy.set_yticks(np.arange(y0, y1 + 0.001, ymaj))
    sy.yaxis.set_minor_locator(MultipleLocator(ymin))
    sy.tick_params(which="both", direction="in", width=1.4, labelright=False)
    sy.tick_params(which="major", length=7)
    sy.tick_params(which="minor", length=3.5)
    sy.spines["right"].set_linewidth(1.6)

axa.tick_params(axis="x", labelbottom=False)
axb.tick_params(axis="x", labelbottom=False)

axa.set_ylabel("Distance(m)", fontsize=19)
axb.set_ylabel("Distance(m)", fontsize=19)
axc.set_ylabel("Difference(m)", fontsize=19)
axc.set_xlabel("Hours in Day", fontsize=19, labelpad=3)
for ax in (axa, axb, axc):
    ax.yaxis.set_label_coords(-0.097, 0.5)

# ---------------- annotations ----------------
def stat_box(ax, x0, x1, y0, y1, text):
    ax.add_patch(mpatches.Rectangle((x0, y0), x1 - x0, y1 - y0,
                                    transform=ax.transAxes, fc="white",
                                    ec="#7f7f7f", lw=1.0, zorder=5))
    ax.text((x0 + x1) / 2, (y0 + y1) / 2, text, transform=ax.transAxes,
            ha="center", va="center", fontsize=14, zorder=6)


stat_box(axa, 0.2745, 0.6304, 0.788, 0.947, text_a)
stat_box(axb, 0.2826, 0.6304, 0.755, 0.899, text_b)

axa.text(18.45, 1.09, "PPPAR", fontsize=18, ha="center", va="center")
axa.text(21.57, 1.09, "(a)", fontsize=18, ha="center", va="center")
axb.text(18.2, 1.14, "RelP", fontsize=18, ha="center", va="center")
axb.text(21.75, 1.10, "(b)", fontsize=18, ha="center", va="center")
axc.text(22.14, -1.03, "(c)", fontsize=18, ha="center", va="center")

leg = axc.legend(loc="upper left", bbox_to_anchor=(0.068, 0.968, 0.803, 0.0),
                 mode="expand", ncol=3, fontsize=14, frameon=True,
                 fancybox=False, edgecolor="#7f7f7f", framealpha=1,
                 handletextpad=0.9, borderpad=0.25, markerscale=1.0,
                 handlelength=1.2, borderaxespad=0)
leg.get_frame().set_linewidth(1.0)
leg.set_zorder(10)

fig.savefig("out.png", dpi=100)
